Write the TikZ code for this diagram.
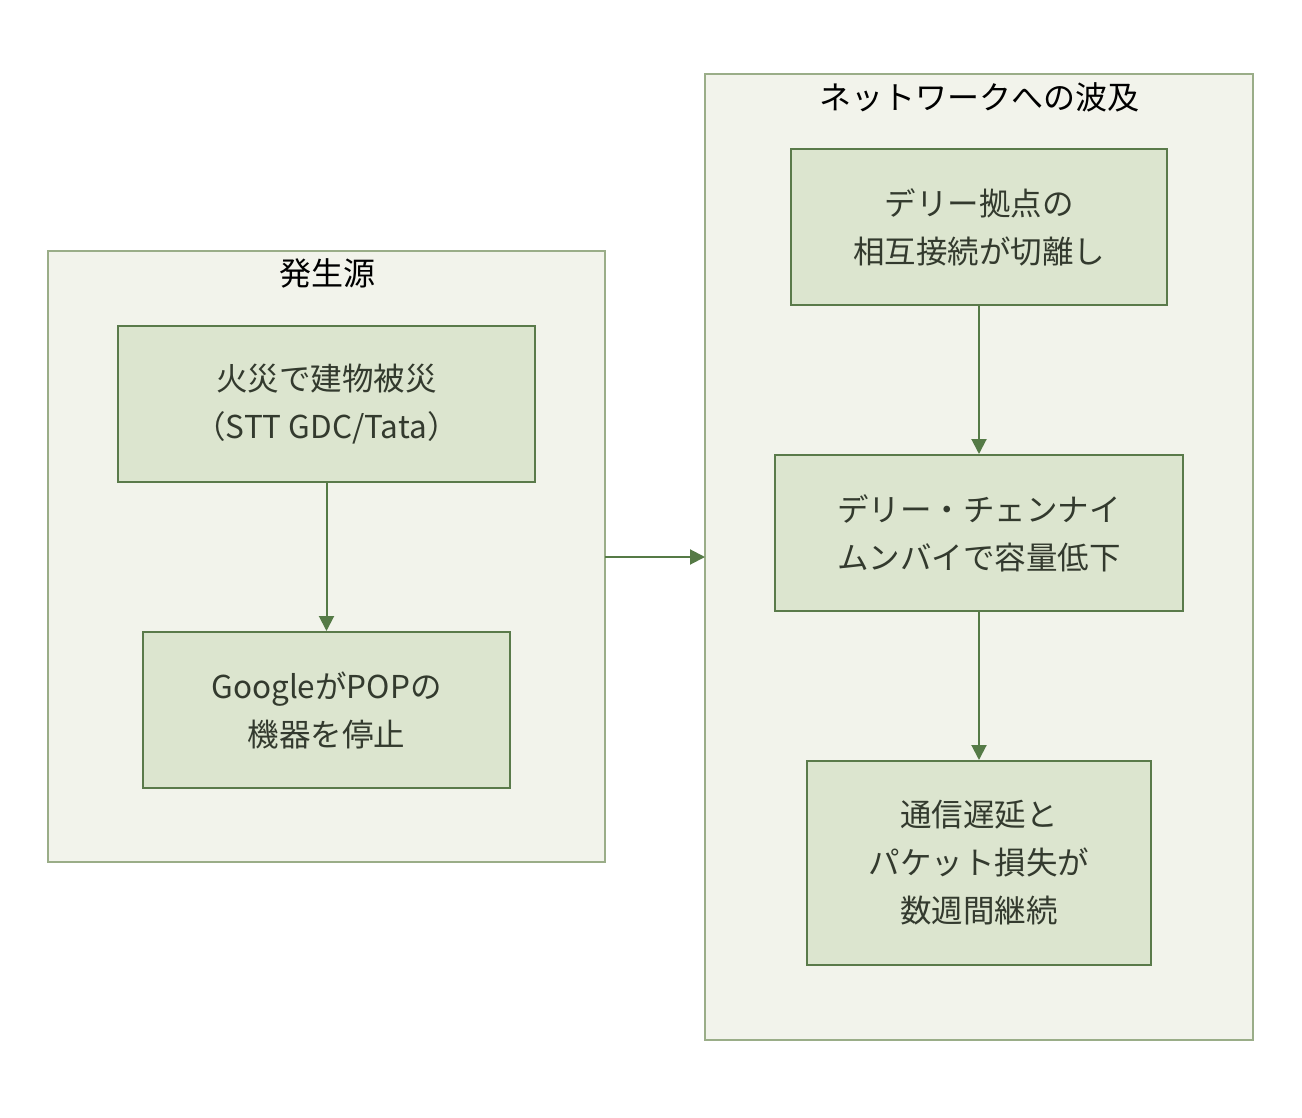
\documentclass[tikz,border=0pt]{standalone}
\usepackage{fontspec}
\setmainfont{Noto Sans CJK JP}
\usetikzlibrary{arrows.meta}
\definecolor{clfill}{HTML}{F2F3EB}
\definecolor{cldraw}{HTML}{9AAD88}
\definecolor{ndfill}{HTML}{DCE5CF}
\definecolor{nddraw}{HTML}{5A7A4A}
\definecolor{ndtext}{HTML}{333A2E}
\definecolor{edgecol}{HTML}{557A46}
\tikzset{
  cluster/.style={draw=cldraw, fill=clfill, line width=2pt},
  cltitle/.style={font=\fontsize{32}{38}\selectfont, text=black, inner sep=0pt, anchor=center},
  proc/.style={draw=nddraw, fill=ndfill, line width=2pt, align=center, text=ndtext,
    font=\fontsize{31.5}{48}\selectfont, inner sep=0pt, anchor=center},
  flow/.style={draw=edgecol, line width=2pt, -{Triangle[length=15pt,width=15pt]}}
}
\begin{document}
\begin{tikzpicture}[x=1pt,y=-1pt]
\useasboundingbox[fill=white] (0,0) rectangle (1302,1118);
% clusters
\path[cluster] (48,251) rectangle (605,862);
\node[cltitle] (t1) at (327,273) {発生源};
\path[cluster] (705,74) rectangle (1253,1040);
\node[cltitle] (t2) at (979,97) {ネットワークへの波及};
\coordinate (c1e) at (605,557);
\coordinate (c2w) at (705,557);
% nodes
\node[proc, minimum width=417pt, minimum height=156pt] (a) at (326.5,404) {火災で建物被災\\（STT GDC/Tata）};
\node[proc, minimum width=367pt, minimum height=156pt] (b) at (326.5,710) {GoogleがPOPの\\機器を停止};
\node[proc, minimum width=376pt, minimum height=156pt] (c) at (979,227) {デリー拠点の\\相互接続が切離し};
\node[proc, minimum width=408pt, minimum height=156pt] (d) at (979,533) {デリー・チェンナイ\\ムンバイで容量低下};
\node[proc, minimum width=344pt, minimum height=204pt] (e) at (979,863) {通信遅延と\\パケット損失が\\数週間継続};
% edges
\draw[flow] (a) -- (b);
\draw[flow] (c) -- (d);
\draw[flow] (d) -- (e);
\draw[flow] (c1e) -- (c2w);
\end{tikzpicture}
\end{document}
